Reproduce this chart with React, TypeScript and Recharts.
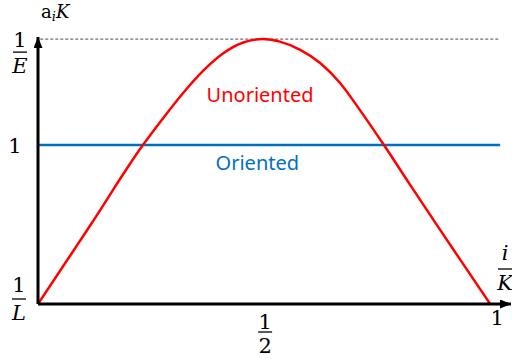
import { LineChart, Line, XAxis, YAxis, ReferenceLine, ReferenceDot } from "recharts";

// i/K positions and the unoriented level a_i K
const xPositions = [0, 0.115, 0.232, 0.277, 0.321, 0.365, 0.409, 0.454, 0.498, 0.535, 0.58, 0.624, 0.668, 0.712, 0.765, 0.823, 0.883, 0.934, 1.0];
const unorientedLevels = [0.25, 0.619, 1.0, 1.128, 1.246, 1.35, 1.432, 1.484, 1.5, 1.488, 1.449, 1.387, 1.293, 1.165, 1.0, 0.812, 0.62, 0.458, 0.25];

const orientedSpan = [0, 1.022];
const orientedLevel = 1;
const minLevel = 0.25; // 1/L
const maxLevel = 1.5; // 1/E

const yTicks = [minLevel, 1, maxLevel];
const xTicks = [0.5, 1];

const unorientedData = xPositions.map((x, i) => ({ x, y: unorientedLevels[i] }));
const orientedData = orientedSpan.map((x) => ({ x, y: orientedLevel }));

const RED = "#ff0000";
const BLUE = "#0070c0";
const SERIF = "'DejaVu Serif', 'Liberation Serif', serif";
const SANS = "'Noto Sans', 'Open Sans', sans-serif";

function Fraction({ cx, barY, num, den, italicNum = false, italicDen = false, numGap = 5 }: any) {
  return (
    <g fontFamily={SERIF} fontSize={21} fill="#000">
      <text x={cx} y={barY - numGap} textAnchor="middle" fontStyle={italicNum ? "italic" : "normal"}>
        {num}
      </text>
      <line x1={cx - 7} x2={cx + 7} y1={barY} y2={barY} stroke="#000" strokeWidth={1.3} />
      <text x={cx} y={barY + 21} textAnchor="middle" fontStyle={italicDen ? "italic" : "normal"}>
        {den}
      </text>
    </g>
  );
}

function YTick({ x, y, payload }: any) {
  const v = payload.value;
  if (v === maxLevel) return <Fraction cx={x - 18} barY={y + 13} num="1" den="E" italicDen />;
  if (v === minLevel) return <Fraction cx={x - 19} barY={y - 5} num="1" den="L" italicDen numGap={7} />;
  return (
    <text x={x - 23} y={y + 8} textAnchor="middle" fontFamily={SERIF} fontSize={21} fill="#000">
      1
    </text>
  );
}

function XTick({ x, y, payload }: any) {
  if (payload.value === 0.5) return <Fraction cx={x + 1} barY={y + 28} num="1" den="2" numGap={3} />;
  return (
    <text x={x + 7} y={y + 21} textAnchor="middle" fontFamily={SERIF} fontSize={21} fill="#000">
      1
    </text>
  );
}

function YTitle({ viewBox }: any) {
  const { x, y, width } = viewBox;
  return (
    <text x={x + width + 3} y={y - 19} fontFamily={SERIF} fontSize={18} fill="#000">
      <tspan>a</tspan>
      <tspan fontStyle="italic" fontSize={13} dy={3}>i</tspan>
      <tspan fontStyle="italic" dy={-3}>K</tspan>
    </text>
  );
}

function XTitle({ viewBox }: any) {
  const { x, y, width } = viewBox;
  return <Fraction cx={x + width - 6} barY={y - 35} num="i" den="K" italicNum italicDen numGap={9} />;
}

export default function App() {
  return (
    <div style={{ position: "absolute", left: 0, top: 0, background: "#fff" }}>
      <LineChart width={512} height={359} margin={{ top: 37, right: 1, left: 0, bottom: 0 }}>
        <defs>
          <marker
            id="axisArrow"
            viewBox="0 0 11 9"
            refX={11}
            refY={4.5}
            markerWidth={11}
            markerHeight={9}
            markerUnits="userSpaceOnUse"
            orient="auto-start-reverse"
          >
            <path d="M0,0 L11,4.5 L0,9 z" fill="#000" />
          </marker>
        </defs>
        <XAxis
          type="number"
          dataKey="x"
          domain={[0, 1.046]}
          ticks={xTicks}
          allowDataOverflow
          height={55}
          tickSize={0}
          tickMargin={0}
          tickLine={false}
          tick={(p: any) => <XTick {...p} />}
          axisLine={{ stroke: "#000", strokeWidth: 3, markerEnd: "url(#axisArrow)" }}
          label={(p: any) => <XTitle {...p} />}
        />
        <YAxis
          type="number"
          dataKey="y"
          domain={[minLevel, 1.51]}
          ticks={yTicks}
          allowDataOverflow
          width={38}
          tickSize={0}
          tickMargin={0}
          tickLine={false}
          tick={(p: any) => <YTick {...p} />}
          axisLine={{ stroke: "#000", strokeWidth: 3, markerStart: "url(#axisArrow)" }}
          label={(p: any) => <YTitle {...p} />}
        />
        <ReferenceLine
          segment={[
            { x: 0.005, y: maxLevel },
            { x: 1.022, y: maxLevel },
          ]}
          stroke="#4a4a4a"
          strokeWidth={1}
          strokeDasharray="3 2"
        />
        <Line
          data={orientedData}
          dataKey="y"
          type="linear"
          stroke={BLUE}
          strokeWidth={2.5}
          dot={false}
          isAnimationActive={false}
        />
        <Line
          data={unorientedData}
          dataKey="y"
          type="monotone"
          stroke={RED}
          strokeWidth={2.5}
          dot={false}
          isAnimationActive={false}
        />
        <ReferenceDot
          x={0.491}
          y={1.236}
          r={0}
          fill="none"
          stroke="none"
          label={{ value: "Unoriented", position: "center", fill: RED, fontSize: 20, fontFamily: SANS }}
        />
        <ReferenceDot
          x={0.485}
          y={0.915}
          r={0}
          fill="none"
          stroke="none"
          label={{ value: "Oriented", position: "center", fill: BLUE, fontSize: 20, fontFamily: SANS }}
        />
      </LineChart>
    </div>
  );
}
